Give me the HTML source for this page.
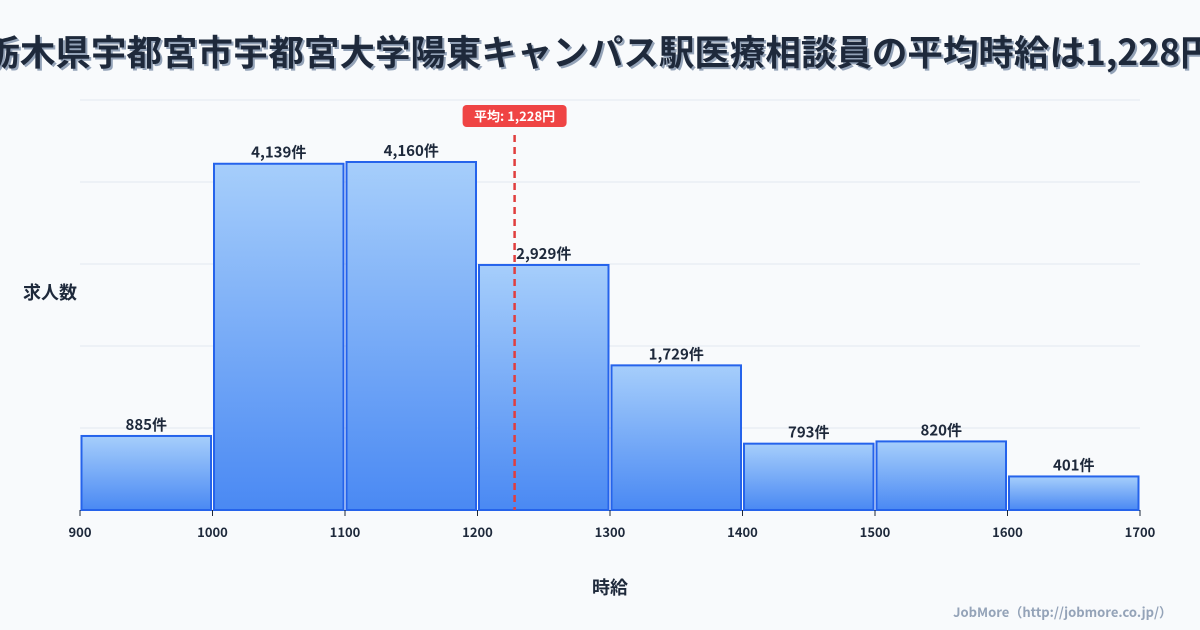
<!DOCTYPE html>
<html><head><meta charset="utf-8"><style>
html,body{margin:0;padding:0;background:#f8fafc;width:1200px;height:630px;overflow:hidden;font-family:"Noto Sans CJK JP","Liberation Sans",sans-serif;}
#title{position:absolute;left:-200px;width:1600px;top:26px;text-align:center;font-size:35.5px;font-weight:bold;color:#1e293b;text-shadow:2px 2px 0 #94a3b8;white-space:nowrap;line-height:50px;}
</style></head><body>
<div id="title">栃木県宇都宮市宇都宮大学陽東キャンパス駅医療相談員の平均時給は1,228円</div>
<svg id="chart" width="1200" height="630" style="position:absolute;left:0;top:0">
<defs><linearGradient id="g" x1="0" y1="0" x2="0" y2="1"><stop offset="0" stop-color="#a6cefb"/><stop offset="1" stop-color="#4a89f3"/></linearGradient></defs>
</svg>
<script>
const binStarts=[900,1000,1100,1200,1300,1400,1500,1600];
const counts=[885,4139,4160,2929,1729,793,820,401];
const tickLabels=[900,1000,1100,1200,1300,1400,1500,1600,1700];
const meanValue=1228;
const binWidth=100;
const svg=document.getElementById('chart');
const NS='http://www.w3.org/2000/svg';
const x0=80,x1=1140,y0=510,yTop=100,xmin=900,xmax=1700,ymax=4901;
const X=v=>x0+(v-xmin)/(xmax-xmin)*(x1-x0);
const Y=v=>y0-v/ymax*(y0-yTop);
function mk(t,a){const e=document.createElementNS(NS,t);for(const k in a)e.setAttribute(k,a[k]);svg.appendChild(e);return e;}
for(let i=0;i<=5;i++){const y=y0-i*(y0-yTop)/5;const l=mk('line',{x1:x0,x2:x1,y1:y,y2:y,stroke:'#e2e8f0','stroke-width':1});

}
binStarts.forEach((b,i)=>{const xa=X(b)+1.5,xb=X(b+binWidth)-1.5,y=Y(counts[i]);
const r=mk('rect',{x:xa,y:y,width:xb-xa,height:y0-y,fill:'url(#g)',stroke:'#2563eb','stroke-width':2});


const t=mk('text',{x:(xa+xb)/2,y:y-6,'text-anchor':'middle','font-size':15,'font-weight':'bold',fill:'#1e293b'});
t.textContent=counts[i].toLocaleString('en-US')+'件';

});
tickLabels.forEach(v=>{const x=X(v);const tk=mk('line',{x1:x,x2:x,y1:y0,y2:y0+6,stroke:'#1e293b','stroke-width':1});


const t=mk('text',{x:x,y:537,'text-anchor':'middle','font-size':13,'font-weight':'bold',fill:'#1e293b'});t.textContent=v;

});
const mx=X(meanValue);
const ml=mk('line',{x1:mx,x2:mx,y1:135,y2:y0,stroke:'#e03e3e','stroke-width':2.5,'stroke-dasharray':'7,5'});


const mb=mk('rect',{x:mx-52,y:105,width:104,height:22,rx:4,fill:'#ef4444'});


const mt=mk('text',{x:mx,y:121,'text-anchor':'middle','font-size':13,'font-weight':'bold',fill:'#fff'});
mt.textContent='平均: '+meanValue.toLocaleString('en-US')+'円';


const yt=mk('text',{x:50,y:299,'text-anchor':'middle','font-size':18,'font-weight':'bold',fill:'#1e293b'});yt.textContent='求人数';


const xt=mk('text',{x:610,y:594,'text-anchor':'middle','font-size':18,'font-weight':'bold',fill:'#1e293b'});xt.textContent='時給';


const cr=mk('text',{x:1172,y:617,'text-anchor':'end','font-size':13,'font-weight':'bold',fill:'#94a3b8'});cr.textContent='JobMore（http://jobmore.co.jp/）';


</script>
</body></html>
